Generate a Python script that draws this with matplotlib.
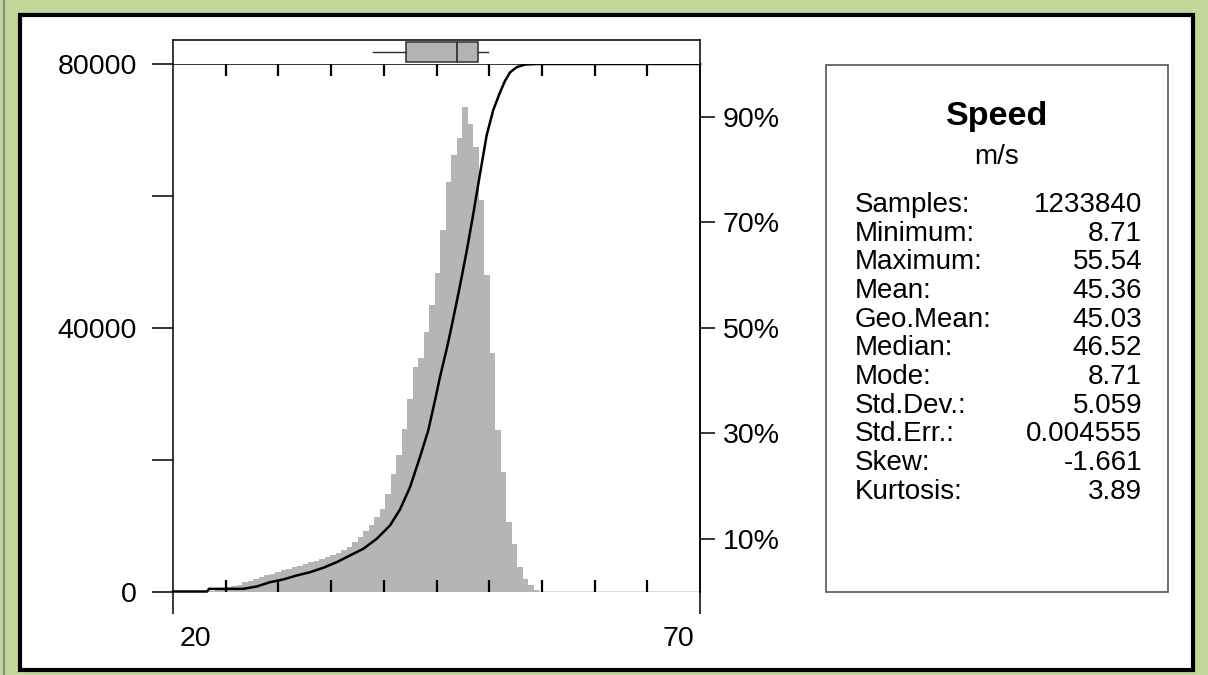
import numpy as np
import matplotlib
matplotlib.use('Agg')
import matplotlib.pyplot as plt
from matplotlib.patches import Rectangle
from matplotlib.lines import Line2D

plt.rcParams['font.family'] = ['Liberation Sans', 'DejaVu Sans']

# histogram of speed (m/s), bins
bin_start = 23.44
bin_width = 0.522
counts = [80, 230, 380, 610, 830, 1060, 1370, 1590, 1900, 2130,
          2430, 2660, 2960, 3190, 3420, 3640, 3870, 4100, 4400, 4630,
          4860, 5160, 5460, 5840, 6220, 6680, 7440, 8200, 9110, 10020,
          11280, 12550, 14830, 17870, 20640, 24700, 29250, 34050, 35370, 39360,
          43520, 48230, 54800, 62040, 66190, 68720, 73520, 70890, 67440, 59350,
          47970, 36130, 24440, 18110, 10520, 7240, 3690, 1930, 910, 230]

# cumulative curve (right axis, percent)
cdf_x = [20.0, 23.23, 23.42, 26.64, 27.94, 29.20, 30.46, 31.74, 33.00, 34.26,
         35.53, 36.79, 38.06, 39.33, 40.59, 41.54, 42.49, 43.43, 44.22, 44.86,
         45.33, 45.97, 46.28, 46.76, 47.23, 47.87, 48.49, 49.13, 49.76, 50.39,
         51.02, 51.50, 51.97, 52.61, 53.40, 54.63, 70.0]
cdf_pct = [0, 0, 0.5, 0.5, 0.95, 1.76, 2.28, 3.04, 3.66, 4.50,
           5.56, 6.83, 8.10, 10.0, 12.52, 15.56, 19.79, 25.48, 30.55, 36.24,
           40.66, 46.0, 48.8, 53.4, 58.0, 64.6, 71.6, 79.2, 86.5, 91.3,
           94.6, 96.8, 98.4, 99.4, 99.9, 100, 100]

# box plot on top
box = dict(whislo=38.98, q1=42.11, med=46.94, q3=48.94, whishi=49.89, fliers=[])

stat_names = ['Samples:', 'Minimum:', 'Maximum:', 'Mean:', 'Geo.Mean:', 'Median:',
              'Mode:', 'Std.Dev.:', 'Std.Err.:', 'Skew:', 'Kurtosis:']
stat_values = ['1233840', '8.71', '55.54', '45.36', '45.03', '46.52',
               '8.71', '5.059', '0.004555', '-1.661', '3.89']

y_ticks = [0, 20000, 40000, 60000, 80000]
y_labels = ['0', '', '40000', '', '80000']
pct_ticks = [10, 30, 50, 70, 90]

W, H = 1208, 675
PT = 0.72  # points per pixel at dpi 100
FS = 20.5


def rect(x0, y0, x1, y1):
    return [x0 / W, 1 - y1 / H, (x1 - x0) / W, (y1 - y0) / H]


fig = plt.figure(figsize=(W / 100, H / 100), dpi=100)
fig.patch.set_facecolor('#c4d79b')

# white panel with thick black frame
fig.add_artist(Rectangle((20 / W, 1 - 670 / H), 1173 / W, 655 / H,
                         transform=fig.transFigure, facecolor='white',
                         edgecolor='black', lw=3, zorder=-5))
fig.add_artist(Line2D([4 / W, 4 / W], [0, 1], transform=fig.transFigure,
                      color='#8c8c8c', lw=1.5, zorder=-5))

# main histogram axes
ax = fig.add_axes(rect(173, 64, 700, 591.5))
ax.set_xlim(20, 70)
ax.set_ylim(0, 80000)
ax.patch.set_alpha(0)

edges = bin_start + bin_width * np.arange(len(counts))
ax.bar(edges, counts, width=bin_width, align='edge', color='#b5b5b5',
       lw=0, zorder=1.5)
ax.axhline(0, color='#4d4d4d', lw=1.0, zorder=1)

ax.spines['bottom'].set_visible(False)
for s in ['left', 'right', 'top']:
    ax.spines[s].set_linewidth(1.1)

ax.set_xticks([20, 70])
ax.set_xticklabels([])
ax.set_xticks(np.arange(25, 70, 5), minor=True)
ax.tick_params(axis='x', which='major', direction='out', length=22 * PT,
               width=1.1, bottom=True, top=False)
ax.tick_params(axis='x', which='minor', direction='in', length=12 * PT,
               width=1.6, bottom=True, top=True)

ax.set_yticks(y_ticks)
ax.set_yticklabels(y_labels, fontsize=FS)
ax.tick_params(axis='y', direction='out', length=21 * PT, width=1.1,
               pad=15 * PT)
# the 0 and 60000 ticks are drawn lighter in the original
for i in (0, 3):
    ax.yaxis.get_major_ticks()[i].tick1line.set_color('#9a9a9a')

ax.annotate('20', xy=(20, 0), xycoords=('data', 'axes fraction'),
            xytext=(22 * PT, -47 * PT), textcoords='offset points',
            ha='center', va='center', fontsize=FS)
ax.annotate('70', xy=(70, 0), xycoords=('data', 'axes fraction'),
            xytext=(-22 * PT, -47 * PT), textcoords='offset points',
            ha='center', va='center', fontsize=FS)

# cumulative percent on right axis
ax2 = ax.twinx()
ax2.set_ylim(0, 100)
ax2.plot(cdf_x, cdf_pct, color='black', lw=1.8, clip_on=False, zorder=3,
         solid_joinstyle='round')
for s in ['left', 'bottom', 'top']:
    ax2.spines[s].set_visible(False)
ax2.spines['right'].set_linewidth(1.1)
ax2.set_yticks(pct_ticks)
ax2.set_yticklabels([f'{p}%' for p in pct_ticks], fontsize=FS)
ax2.tick_params(axis='y', direction='out', length=15 * PT, width=1.1,
                pad=8 * PT)

# box plot strip
bax = fig.add_axes(rect(173, 40, 700, 64))
bax.spines['bottom'].set_visible(False)
for s in ['left', 'right', 'top']:
    bax.spines[s].set_linewidth(1.1)
bax.bxp([box], positions=[0.5], widths=0.8, vert=False, showfliers=False,
        showcaps=False, patch_artist=True,
        boxprops=dict(facecolor='#b3b3b3', edgecolor='#3c3c3c', lw=1.2),
        medianprops=dict(color='#2b2b2b', lw=1.2),
        whiskerprops=dict(color='#2b2b2b', lw=1.0))
bax.set_xlim(20, 70)
bax.set_ylim(0, 1)
bax.set_xticks([])
bax.set_yticks([])

# statistics panel
fig.add_artist(Rectangle((825.7 / W, 1 - 591.7 / H), (1168 - 825.7) / W,
                         (591.7 - 65) / H, transform=fig.transFigure,
                         facecolor='white', edgecolor='#555555', lw=1.2))
cx = (825.7 + 1168) / 2
fig.text(cx / W, 1 - 116.7 / H, 'Speed', ha='center', va='center',
         fontsize=24.5, fontweight='bold')
fig.text(cx / W, 1 - 156.7 / H, 'm/s', ha='center', va='center', fontsize=20)
for i, (n, v) in enumerate(zip(stat_names, stat_values)):
    yy = 205 + 28.67 * i
    fig.text(855 / W, 1 - yy / H, n, ha='left', va='center', fontsize=20)
    fig.text(1142 / W, 1 - yy / H, v, ha='right', va='center', fontsize=20)

fig.savefig('out.png', dpi=100, facecolor=fig.get_facecolor())
